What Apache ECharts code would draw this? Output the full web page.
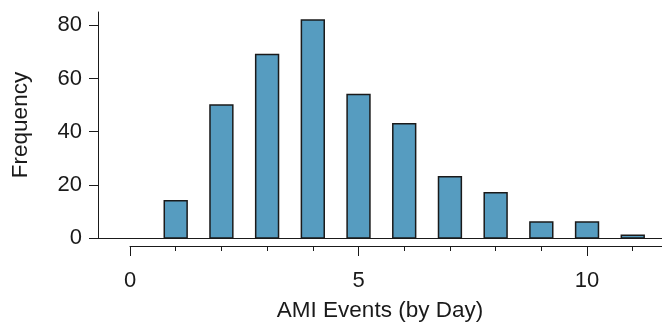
<!DOCTYPE html>
<html>
<head>
<meta charset="utf-8">
<script src="https://cdn.jsdelivr.net/npm/echarts@6/dist/echarts.min.js"></script>
<style>
  html, body { margin: 0; padding: 0; background: #fff; }
  #main { width: 662px; height: 323px; }
</style>
</head>
<body>
<div id="main"></div>
<script>
 // 数据
 var days = [0, 1, 2, 3, 4, 5, 6, 7, 8, 9, 10, 11];
 var counts = [0, 14, 50, 69, 82, 54, 43, 23, 17, 6, 6, 1];
 var yTicks = [0, 20, 40, 60, 80];
 var xLabels = [0, 5, 10];

 var chart = echarts.init(document.getElementById('main'));

 var ink = '#1a1a1a';
 var font = 'Liberation Sans, Arial, sans-serif';
 var fs = 22;     // 刻度文字
 var nameFs = 22.5; // 轴标题

 var barData = days.map(function (d, i) { return [d, counts[i]]; });

 var option = {
     animation: false,
     textStyle: { fontFamily: font },
     grid: [
         { left: 98, right: 0, top: 12, bottom: 85, outerBoundsMode: 'none' },       // 柱子区域
         { left: 130, right: 0, top: 246, height: 1, outerBoundsMode: 'none' }       // 下方独立的x轴
     ],
     xAxis: [
         {
             type: 'value', gridIndex: 0, min: -0.7, max: 11.64,
             axisLine: { show: true, onZero: false, lineStyle: { color: ink, width: 1 } },
             axisTick: { show: false }, axisLabel: { show: false }, splitLine: { show: false },
             name: 'AMI Events (by Day)', nameLocation: 'middle', nameGap: 61,
             nameTextStyle: { fontSize: nameFs, color: ink, fontFamily: font }
         },
         {
             type: 'value', gridIndex: 1, position: 'top', min: 0, max: 11.64, interval: 1,
             axisLine: { show: true, onZero: false, lineStyle: { color: ink, width: 1 } },
             axisTick: { show: true, inside: true, length: 5, lineStyle: { color: ink } },
             axisLabel: { show: false }, splitLine: { show: false }
         },
         {
             type: 'value', gridIndex: 1, position: 'top', min: 0, max: 11.64, interval: 5,
             axisLine: { show: false, onZero: false },
             axisTick: { show: true, inside: true, length: 10, lineStyle: { color: ink } },
             axisLabel: { show: true, inside: true, margin: 24, fontSize: fs, color: ink, fontFamily: font,
                 customValues: xLabels },
             splitLine: { show: false }
         }
     ],
     yAxis: [
         {
             type: 'value', gridIndex: 0, min: 0, max: 85,
             axisLine: { show: true, onZero: false, lineStyle: { color: ink, width: 1 } },
             axisTick: { show: true, length: 9, lineStyle: { color: ink }, customValues: yTicks },
             axisLabel: { fontSize: fs, color: ink, margin: 16, fontFamily: font, customValues: yTicks },
             splitLine: { show: false },
             name: 'Frequency', nameLocation: 'middle', nameGap: 66,
             nameTextStyle: { fontSize: nameFs, color: ink, fontFamily: font }
         },
         {
             type: 'value', gridIndex: 1, min: 0, max: 1, show: false
         }
     ],
     series: [
         {
             type: 'custom',
             xAxisIndex: 0, yAxisIndex: 0,
             data: barData,
             renderItem: function (params, api) {
                 var x = api.value(0), y = api.value(1);
                 if (!y) return null;
                 var p0 = api.coord([x - 0.25, y]);
                 var p1 = api.coord([x + 0.25, 0]);
                 return {
                     type: 'rect',
                     shape: { x: p0[0], y: p0[1], width: p1[0] - p0[0], height: p1[1] - p0[1] },
                     style: { fill: '#569cc0', stroke: ink, lineWidth: 1.5 }
                 };
             }
         }
     ]
 };

 chart.setOption(option, true);
 window.addEventListener('resize', function () {
     chart.resize();
 });
</script>
</body>
</html>
